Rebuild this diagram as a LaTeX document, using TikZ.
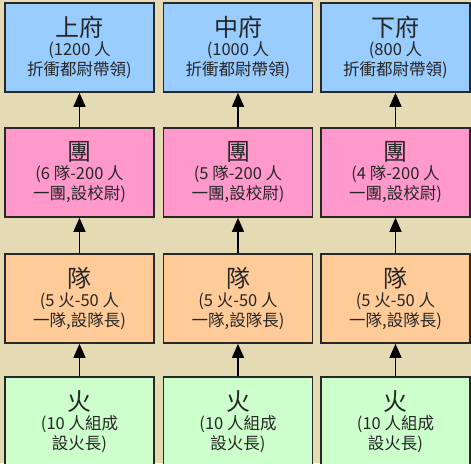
\documentclass[tikz,border=0pt]{standalone}
\usepackage{fontspec}
\setmainfont{Noto Sans CJK TC}
\usetikzlibrary{arrows.meta}
\definecolor{bgtan}{RGB}{228,218,180}
\definecolor{fublue}{RGB}{153,204,255}
\definecolor{tuanpink}{RGB}{255,153,204}
\definecolor{duiorange}{RGB}{255,204,153}
\definecolor{huogreen}{RGB}{204,255,204}
\definecolor{edge}{RGB}{40,40,40}
\tikzset{
  unitbox/.style={draw=edge, line width=1.6pt, minimum width=149pt, minimum height=89pt,
    inner sep=0pt, align=center, text=black!85, font=\fontsize{16.5}{20}\selectfont},
  upar/.style={-{Triangle[length=14pt,width=12pt]}, line width=1.4pt, draw=black},
}
\newcommand{\ttl}[1]{{\fontsize{24}{24}\selectfont #1}\\[-1pt]}
\begin{document}
\begin{tikzpicture}[x=1pt,y=-1pt]
\useasboundingbox (0,0) rectangle (471,463);
\clip (0,0) rectangle (471,463);
\fill[bgtan] (0,0) rectangle (471,463);
% top row
\node[unitbox, fill=fublue] (f1) at (79.5,47.5) {\ttl{上府}(1200 人\\折衝都尉帶領)};
\node[unitbox, fill=fublue] (f2) at (238,47.5) {\ttl{中府}(1000 人\\折衝都尉帶領)};
\node[unitbox, fill=fublue] (f3) at (395.5,47.5) {\ttl{下府}(800 人\\折衝都尉帶領)};
% tuan
\node[unitbox, fill=tuanpink] (t1) at (79.5,172.5) {\ttl{團}(6 隊-200 人\\一團,設校尉)};
\node[unitbox, fill=tuanpink] (t2) at (238,172.5) {\ttl{團}(5 隊-200 人\\一團,設校尉)};
\node[unitbox, fill=tuanpink] (t3) at (395.5,172.5) {\ttl{團}(4 隊-200 人\\一團,設校尉)};
% dui
\node[unitbox, fill=duiorange] (d1) at (79.5,298.5) {\ttl{隊}(5 火-50 人\\一隊,設隊長)};
\node[unitbox, fill=duiorange] (d2) at (238,298.5) {\ttl{隊}(5 火-50 人\\一隊,設隊長)};
\node[unitbox, fill=duiorange] (d3) at (395.5,298.5) {\ttl{隊}(5 火-50 人\\一隊,設隊長)};
% huo
\node[unitbox, fill=huogreen] (h1) at (79.5,421.5) {\ttl{火}(10 人組成\\設火長)};
\node[unitbox, fill=huogreen] (h2) at (238,421.5) {\ttl{火}(10 人組成\\設火長)};
\node[unitbox, fill=huogreen] (h3) at (395.5,421.5) {\ttl{火}(10 人組成\\設火長)};
% arrows
\foreach \i in {1,2,3}{
  \draw[upar] (t\i.north) -- (f\i.south);
  \draw[upar] (d\i.north) -- (t\i.south);
  \draw[upar] (h\i.north) -- (d\i.south);
}
\end{tikzpicture}
\end{document}
